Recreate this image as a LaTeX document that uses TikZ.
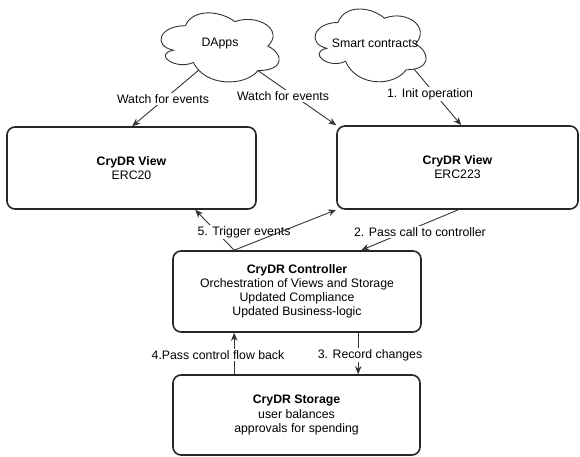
\documentclass[tikz,border=0pt]{standalone}
\usepackage{fontspec}
\setmainfont{Liberation Sans}
\usetikzlibrary{arrows.meta,calc}
\begin{document}
\begin{tikzpicture}[x=1pt,y=-1pt,
  box/.style={draw=black!85, line width=1.6pt, rounded corners=8pt, align=center,
    font=\fontsize{12.3}{14.2}\selectfont, inner sep=0pt},
  conn/.style={draw=black!80, line width=0.9pt, -{Stealth[length=8pt,width=6.5pt,inset=2.5pt]}},
  plain/.style={draw=black!80, line width=0.9pt},
  lbl/.style={fill=white, inner sep=1pt, font=\fontsize{12.3}{14}\selectfont},
  cloudtext/.style={inner sep=0pt, font=\fontsize{12.3}{14}\selectfont},
  cloudline/.style={draw=black!80, line width=0.9pt, fill=white}]
\useasboundingbox (0,0) rectangle (580,457);

% clouds
\begin{scope}[shift={(152.4,5.3)}, xscale=132, yscale=81.6]
\draw[cloudline] (0.25,0.25) .. controls (0.05,0.25) and (0,0.5) .. (0.16,0.55)
  .. controls (0,0.6) and (0.18,0.8) .. (0.31,0.7)
  .. controls (0.4,1) and (0.7,1) .. coordinate[pos=0.12] (dA) (0.8,0.8) coordinate (dB)
  .. controls (1,0.8) and (1,0.6) .. (0.875,0.5)
  .. controls (1,0.3) and (0.8,0.1) .. (0.625,0.2)
  .. controls (0.5,0.05) and (0.3,0.05) .. (0.25,0.25) -- cycle;
\end{scope}
\begin{scope}[shift={(307,1)}, xscale=124, yscale=86]
\draw[cloudline] (0.25,0.25) .. controls (0.05,0.25) and (0,0.5) .. (0.16,0.55)
  .. controls (0,0.6) and (0.18,0.8) .. (0.31,0.7)
  .. controls (0.4,1) and (0.7,1) .. (0.8,0.8)
  .. controls (1,0.8) and (1,0.6) .. coordinate[pos=0.12] (sA) (0.875,0.5)
  .. controls (1,0.3) and (0.8,0.1) .. (0.625,0.2)
  .. controls (0.5,0.05) and (0.3,0.05) .. (0.25,0.25) -- cycle;
\end{scope}
\node[cloudtext] (dapps) at (220,44) {DApps};
\node[cloudtext] (smart) at (375,43) {Smart contracts};

% boxes
\node[box, minimum width=249pt, minimum height=82pt] (lv) at (131.5,168) {\textbf{CryDR View}\\ERC20};
\node[box, minimum width=241pt, minimum height=83pt] (rv) at (457.5,167.5) {\textbf{CryDR View}\\ERC223};
\node[box, minimum width=248pt, minimum height=81pt] (ctrl) at (297,291.5)
  {\textbf{CryDR Controller}\\Orchestration of Views and Storage\\Updated Compliance\\Updated Business-logic};
\node[box, minimum width=247pt, minimum height=80pt] (st) at (296.5,415)
  {\textbf{CryDR Storage}\\user balances\\approvals for spending};

% anchor points
\coordinate (lvT) at ($(lv.north west)+(126,0)$);
\coordinate (lvB) at ($(lv.south west)+(189,0)$);
\coordinate (rvT) at ($(rv.north west)+(125,0)$);
\coordinate (rvB) at ($(rv.south west)+(122,0)$);
\coordinate (ctT1) at ($(ctrl.north west)+(62,0)$);
\coordinate (ctT2) at ($(ctrl.north west)+(189,0)$);
\coordinate (ctB1) at ($(ctrl.south west)+(62,0)$);
\coordinate (ctB2) at ($(ctrl.south west)+(186,0)$);
\coordinate (stT1) at ($(st.north west)+(62,0)$);
\coordinate (stT2) at ($(st.north west)+(186,0)$);

% connectors
\draw[conn] (dA) -- (lvT);
\draw[conn] (dB) -- (rv.north west);
\draw[conn] (sA) -- (rvT);
\draw[conn] (ctT1) -- (lvB);
\draw[conn] (rvB) -- (ctT2);
\draw[conn] (ctB2) -- (stT2);
\draw[conn] (stT1) -- (ctB1);

% labels
\node[lbl] (l1) at (163,99) {Watch for events};
\node[lbl] (l2) at (283,96) {Watch for events};
\node[lbl] (l3) at (430,94) {1. Init operation};
\node[lbl] (l4) at (244,232) {5. Trigger events};
\node[lbl] (l5) at (420,232) {2. Pass call to controller};
\node[lbl] (l6) at (370,355) {3. Record changes};
\node[lbl] (l7) at (218,355) {4.Pass control flow back};

\draw[conn] (ctT1) -- (rv.south west);
\end{tikzpicture}
\end{document}
